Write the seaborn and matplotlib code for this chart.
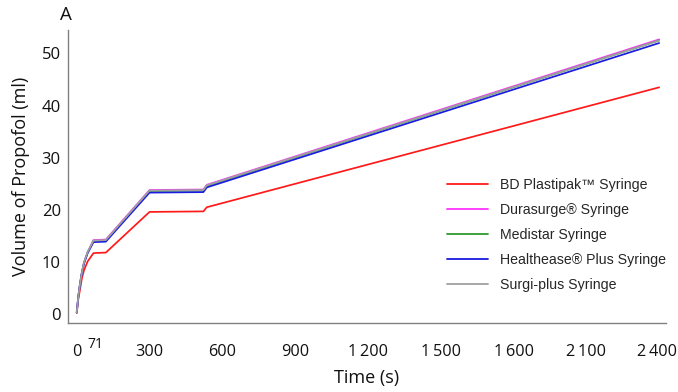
import matplotlib
matplotlib.use("Agg")
import matplotlib.pyplot as plt
import matplotlib.transforms as mtrans
import seaborn as sns
import pandas as pd
import numpy as np
from matplotlib.lines import Line2D

# ---- data ----
time_s = [0, 7, 14, 21, 30, 45, 69, 120, 300, 522, 536, 2400]
bd_plastipak = [0.2, 3.0, 4.8, 6.8, 8.4, 10.1, 11.7, 11.8, 19.6, 19.7, 20.5, 43.5]
durasurge = [0.3, 3.6, 6.0, 8.0, 9.9, 11.9, 14.2, 14.3, 23.8, 23.9, 24.8, 52.7]
medistar = [0.3, 3.5, 5.9, 7.9, 9.8, 11.8, 14.0, 14.1, 23.6, 23.7, 24.6, 52.5]
healthease = [0.3, 3.5, 5.8, 7.8, 9.7, 11.7, 13.8, 13.9, 23.3, 23.4, 24.3, 52.0]
surgiplus = [0.3, 3.5, 5.9, 7.9, 9.9, 11.9, 14.1, 14.2, 23.7, 23.8, 24.7, 52.5]

series_names = ["BD Plastipak\u2122 Syringe", "Durasurge\u00ae Syringe", "Medistar Syringe",
                "Healthease\u00ae Plus Syringe", "Surgi-plus Syringe"]
series_values = [bd_plastipak, durasurge, medistar, healthease, surgiplus]
series_colors = ["#ff1a1a", "#ff33ff", "#2e9a2e", "#1a1ae0", "#a0a0a0"]

xtick_pos = [0, 71, 300, 600, 900, 1200, 1500, 1800, 2100, 2400]
xtick_labels = ["0", "71", "300", "600", "900", "1\u2009200", "1\u2009500", "1\u2009600",
                "2\u2009100", "2\u2009400"]
ytick_pos = [0, 10, 20, 30, 40, 50]

rows = []
for name, vals in zip(series_names, series_values):
    for t, v in zip(time_s, vals):
        rows.append({"Time": t, "Volume": v, "Syringe": name})
df = pd.DataFrame(rows)

sns.set_theme(style="white")
plt.rcParams["font.family"] = ["Open Sans", "DejaVu Sans"]

fig = plt.figure(figsize=(6.78, 3.92), dpi=100)
ax = fig.add_axes([0.0999, 0.1768, 0.882, 0.7467])

sns.lineplot(data=df, x="Time", y="Volume", hue="Syringe", hue_order=series_names,
             palette=dict(zip(series_names, series_colors)), linewidth=1.25, ax=ax,
             legend=False, sort=False, estimator=None)

ax.set_xlim(-37, 2427)
ax.set_ylim(-1.65, 54.5)

for s in ["top", "right"]:
    ax.spines[s].set_visible(False)
for s in ["left", "bottom"]:
    ax.spines[s].set_color("#808080")
    ax.spines[s].set_linewidth(1.0)

ax.set_yticks(ytick_pos)
ax.set_yticklabels([str(v) for v in ytick_pos], fontsize=12, color="#111111")
ax.set_xticks(xtick_pos)
ax.set_xticklabels([lab if lab != "71" else "" for lab in xtick_labels], fontsize=11.7, color="#111111")
ax.tick_params(axis="x", direction="out", length=3.5, width=1.0, color="#808080", pad=12)
ax.tick_params(axis="y", direction="out", length=2, width=1.0, color="#808080", pad=3)

# nudge the last x label slightly left so it stays inside the figure
last_lab = ax.get_xticklabels()[-1]
last_lab.set_transform(last_lab.get_transform() +
                       mtrans.ScaledTranslation(-2.5 / 100, 0, fig.dpi_scale_trans))

# raised "71" label
ax.annotate("71", xy=(71, 0), xycoords=("data", "axes fraction"), xytext=(1, -10.5),
            textcoords="offset points", ha="center", va="top", fontsize=10, color="#111111")

ax.set_xlabel("Time (s)", fontsize=13, color="#111111", labelpad=6)
ax.set_ylabel("Volume of Propofol (ml)", fontsize=13, color="#111111", labelpad=8)

fig.text(0.088, 0.962, "A", fontsize=13.5, color="#111111", ha="left", va="center")

handles = [Line2D([0], [0], color=c, lw=1.3) for c in series_colors]
leg = ax.legend(handles, series_names, loc="upper left", bbox_to_anchor=(0.6406, 0.578),
                bbox_transform=fig.transFigure, frameon=False, handlelength=2.9,
                handletextpad=0.85, labelspacing=0.78,
                prop={"family": ["Liberation Sans", "DejaVu Sans"], "size": 10.2})

fig.savefig("out.png", dpi=100, facecolor="white")
